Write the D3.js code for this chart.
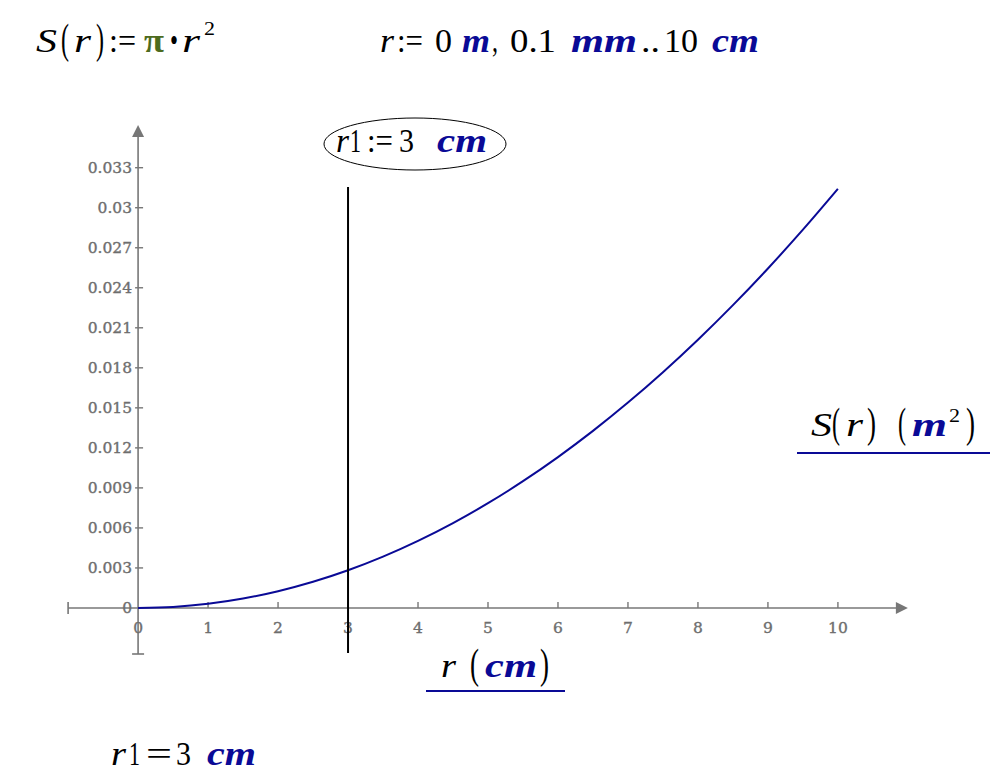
<!DOCTYPE html>
<html><head><meta charset="utf-8">
<script src="https://cdn.jsdelivr.net/npm/d3@7"></script>
<style>body{margin:0;background:#fff}svg{display:block}</style>
</head><body>
<script>
// Data: r in cm, S in m^2
const rValues = [0,0.5,1,1.5,2,2.5,3,3.5,4,4.5,5,5.5,6,6.5,7,7.5,8,8.5,9,9.5,10];
const sValues = [0,0.0000785,0.000314,0.000707,0.001257,0.001963,0.002827,0.003848,0.005027,0.006362,0.007854,0.009503,0.01131,0.013273,0.015394,0.017671,0.020106,0.022698,0.025447,0.028353,0.031416];
const xTicks = [0,1,2,3,4,5,6,7,8,9,10];
const yTicks = [0,0.003,0.006,0.009,0.012,0.015,0.018,0.021,0.024,0.027,0.03,0.033];
const yTickLabels = ["0","0.003","0.006","0.009","0.012","0.015","0.018","0.021","0.024","0.027","0.03","0.033"];
const markerR = 3;

const W=999,H=782;
const BLUE="#0a0a96", GRAY="#777777", GREEN="#4d6b1e";
const svg=d3.select("body").append("svg").attr("width",W).attr("height",H);
const x=d3.scaleLinear().domain([-1,11]).range([68.1,907.9]);
const y=d3.scaleLinear().domain([-0.00345,0.0362]).range([654,125]);
const serif="'Liberation Serif','DejaVu Serif',serif";
const tickFont="'DejaVu Serif',serif";

// Axes lines
svg.append("line").attr("x1",x(-1)).attr("x2",x(11)-8).attr("y1",y(0)).attr("y2",y(0)).attr("stroke",GRAY).attr("stroke-width",1.6);
svg.append("path").attr("d",`M${x(11)},${y(0)} l-12,-6 l0,12 z`).attr("fill",GRAY);
svg.append("line").attr("x1",x(-1)).attr("x2",x(-1)).attr("y1",y(0)-6).attr("y2",y(0)+6).attr("stroke",GRAY).attr("stroke-width",1.6);
svg.append("line").attr("x1",x(0)).attr("x2",x(0)).attr("y1",y(-0.00345)).attr("y2",y(0.0362)+8).attr("stroke",GRAY).attr("stroke-width",1.6);
svg.append("path").attr("d",`M${x(0)},${y(0.0362)} l-6,12 l12,0 z`).attr("fill",GRAY);
svg.append("line").attr("x1",x(0)-6).attr("x2",x(0)+6).attr("y1",y(-0.00345)).attr("y2",y(-0.00345)).attr("stroke",GRAY).attr("stroke-width",1.6);

// ticks
const g=svg.append("g");
function tickText(sel){
  return sel.attr("font-family",tickFont).attr("font-size",15.5).attr("fill","#6e6e6e")
    .attr("stroke","#6e6e6e").attr("stroke-width",0.35);
}
xTicks.forEach(t=>{
  if(t>0) g.append("line").attr("x1",x(t)).attr("x2",x(t)).attr("y1",y(0)-6).attr("y2",y(0)).attr("stroke",GRAY).attr("stroke-width",1.4);
  tickText(g.append("text").attr("x",x(t)).attr("y",y(0)+25).attr("text-anchor","middle")).text(t);
});
yTicks.forEach((t,i)=>{
  if(t>0) g.append("line").attr("x1",x(0)-3).attr("x2",x(0)+5).attr("y1",y(t)).attr("y2",y(t)).attr("stroke",GRAY).attr("stroke-width",1.4);
  tickText(g.append("text").attr("x",x(0)-6).attr("y",y(t)+5.5).attr("text-anchor","end")).text(yTickLabels[i]);
});

// curve
const pts=rValues.map((r,i)=>[r,sValues[i]]);
svg.append("path").datum(pts).attr("fill","none").attr("stroke",BLUE).attr("stroke-width",2)
  .attr("d",d3.line().x(d=>x(d[0])).y(d=>y(d[1])).curve(d3.curveMonotoneX));

// marker line r1
svg.append("line").attr("x1",x(markerR)).attr("x2",x(markerR)).attr("y1",187).attr("y2",y(-0.00345)-1).attr("stroke","#000").attr("stroke-width",2);

// rich label: each part is its own text, placed and fitted to a width
function rich(yp,parts,size){
  const grp=svg.append("g");
  parts.forEach(p=>{
    let fs=size, yy=yp;
    if(p.sup){ fs=size*0.6; yy=p.sy; }
    if(p.p){ fs=size*1.25; yy=yp+1; }
    const s=grp.append("text").attr("x",p.x).attr("y",yy).attr("font-family",serif).attr("font-size",fs)
      .attr("fill",p.c||"#000").text(p.t);
    if(p.i) s.attr("font-style","italic");
    if(p.b) s.attr("font-weight","bold");
    if(p.w) s.attr("textLength",p.w).attr("lengthAdjust","spacingAndGlyphs");
  });
  return grp;
}
// top formulas
rich(52,[{t:"S",i:1,x:36,w:21},{t:"(",p:1,x:61,w:8},{t:"r",i:1,x:74,w:17},{t:")",p:1,x:96,w:8},
  {t:":=",x:109,w:27},{t:"π",c:GREEN,b:1,x:144,w:20},{t:"•",x:170,w:8},{t:"r",i:1,x:182,w:18},{t:"2",sup:1,sy:35,x:204,w:11}],33);
rich(52,[{t:"r",i:1,x:380,w:14},{t:":=",x:397,w:26},{t:"0",x:435,w:17},{t:"m",i:1,b:1,c:BLUE,x:462,w:28},
  {t:",",x:492,w:6},{t:"0.1",x:510,w:46},{t:"mm",i:1,b:1,c:BLUE,x:571,w:66},{t:"..",x:641,w:19},
  {t:"10",x:664,w:34},{t:"cm",i:1,b:1,c:BLUE,x:712,w:47}],33);

// ellipse label
svg.append("ellipse").attr("cx",415).attr("cy",144).attr("rx",91).attr("ry",26).attr("fill","none").attr("stroke","#000").attr("stroke-width",1);
rich(152,[{t:"r",i:1,x:336,w:13},{t:"1",x:350,w:11},{t:":=",x:367,w:26},{t:"3",x:399,w:15},{t:"cm",i:1,b:1,c:BLUE,x:437,w:50}],33);

// legend
rich(436,[{t:"S",i:1,x:811,w:21},{t:"(",p:1,x:832,w:8},{t:"r",i:1,x:846,w:17},{t:")",p:1,x:867,w:9},
  {t:"(",p:1,x:898,w:8},{t:"m",i:1,b:1,c:BLUE,x:912,w:35},{t:"2",sup:1,sy:422,x:949,w:11},{t:")",p:1,x:966,w:9}],33);
svg.append("line").attr("x1",797).attr("x2",990).attr("y1",453).attr("y2",453).attr("stroke",BLUE).attr("stroke-width",2.2);

// x label
rich(677,[{t:"r",i:1,x:441,w:15},{t:"(",p:1,x:470,w:9},{t:"cm",i:1,b:1,c:BLUE,x:485,w:52},{t:")",p:1,x:540,w:9}],33);
svg.append("line").attr("x1",426).attr("x2",565).attr("y1",691).attr("y2",691).attr("stroke",BLUE).attr("stroke-width",2.2);

// bottom result
rich(765,[{t:"r",i:1,x:111,w:15},{t:"1",x:129,w:11},{t:"=",x:146,w:26},{t:"3",x:176,w:15},{t:"cm",i:1,b:1,c:BLUE,x:207,w:49}],33);
</script>
</body></html>
